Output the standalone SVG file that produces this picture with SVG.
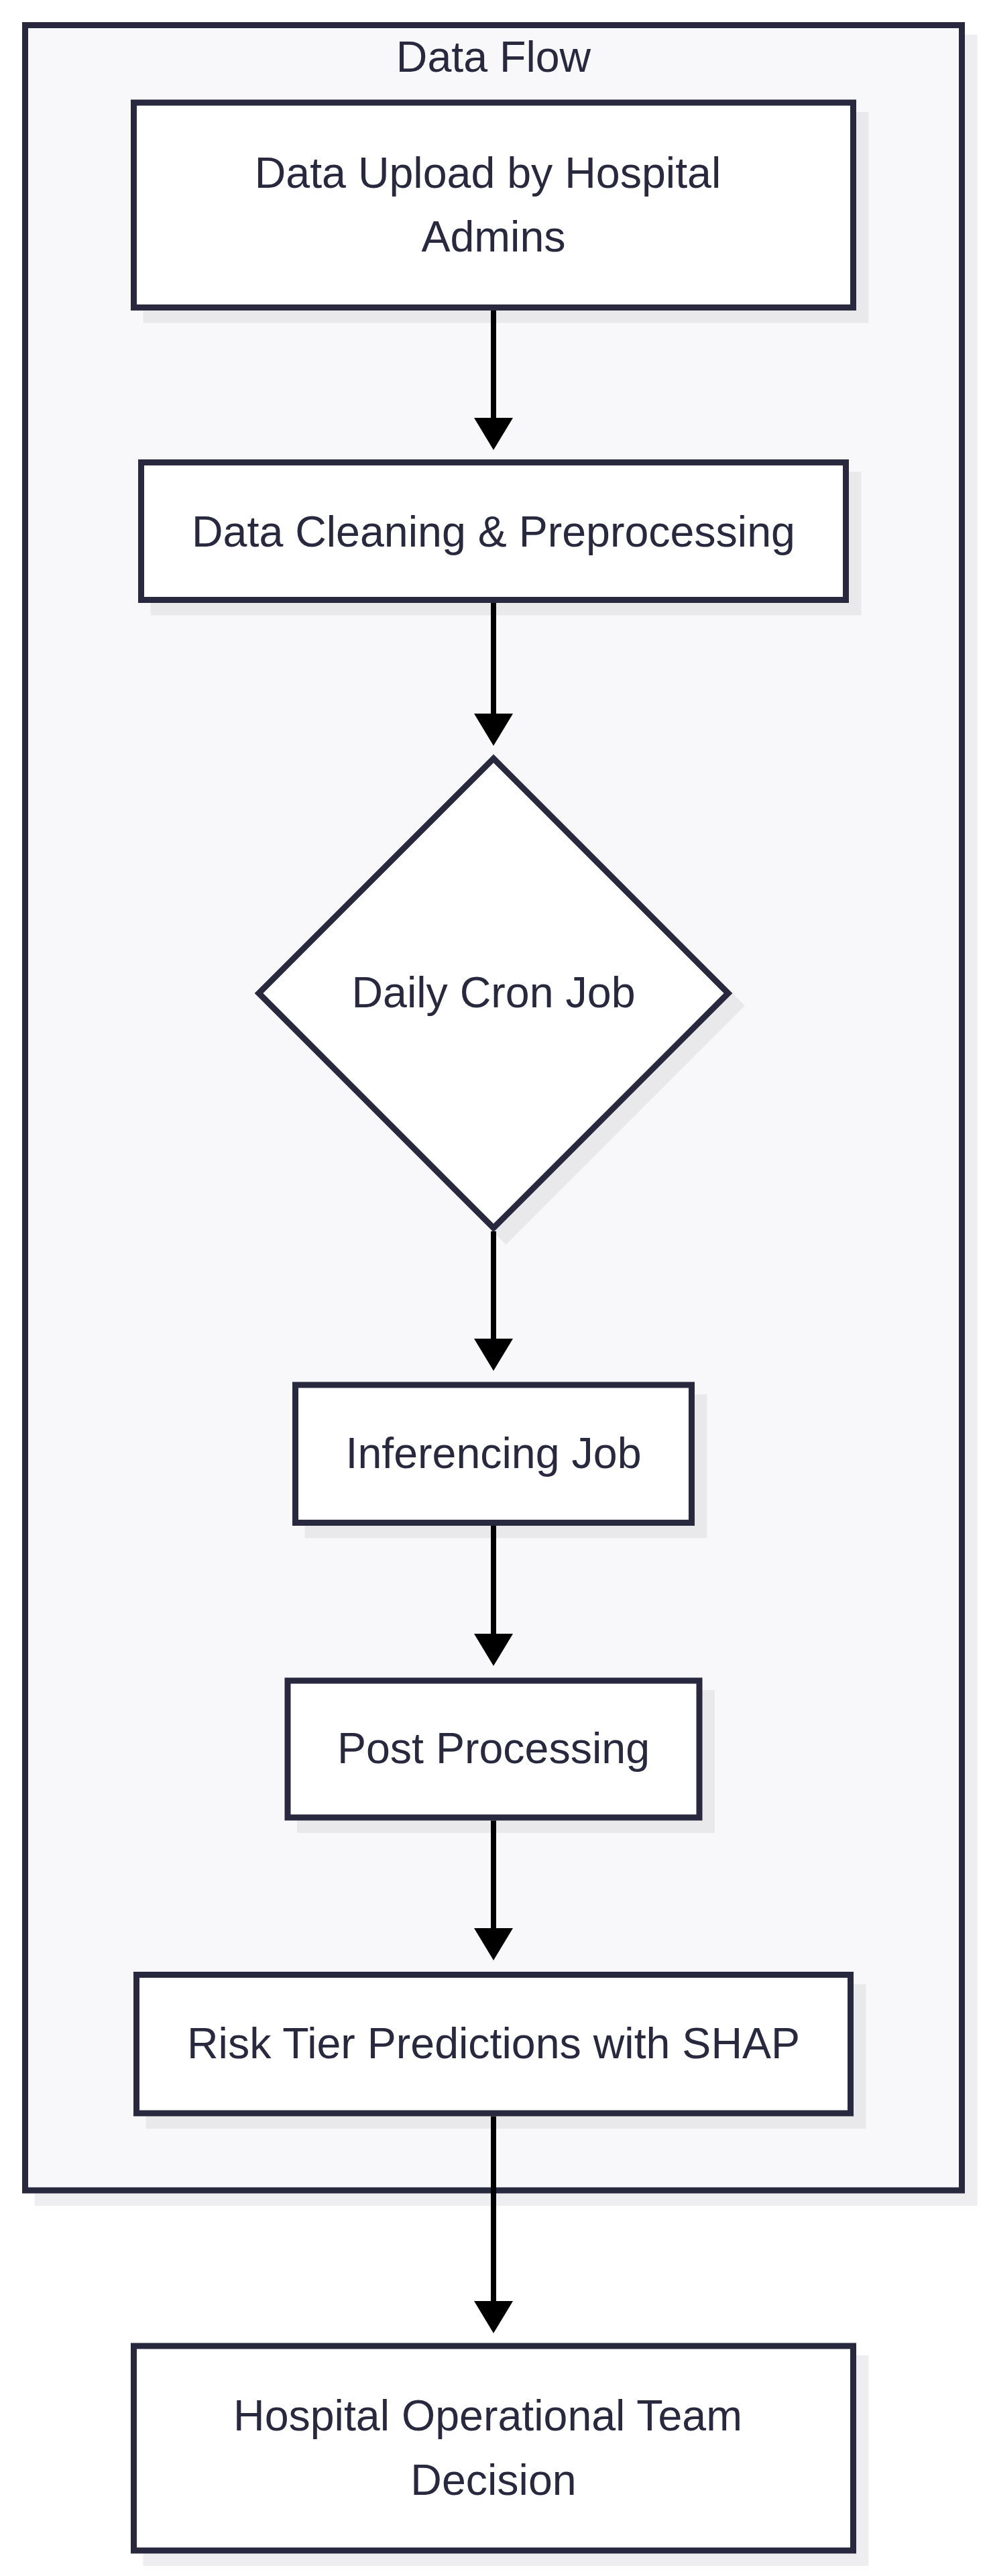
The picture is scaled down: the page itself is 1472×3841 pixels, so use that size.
<svg xmlns="http://www.w3.org/2000/svg" width="1472" height="3841" viewBox="0 0 1472 3841">
<defs>
<style>
.sh-in{fill:#e9e9ec;stroke:#e9e9ec;stroke-width:9}
.sh-out{fill:#eeeef0;stroke:#eeeef0;stroke-width:9}
.cluster{fill:#f8f8fa;stroke:#28283f;stroke-width:9}
.node{fill:#ffffff;stroke:#28283f;stroke-width:9}
.lbl{font-family:"Liberation Sans",Arial,Helvetica,sans-serif;font-size:64.5px;fill:#28283f;text-anchor:middle}
.edge{stroke:#000000;stroke-width:8;fill:none}
</style>
<marker id="arrow" markerUnits="userSpaceOnUse" markerWidth="48" markerHeight="58" viewBox="0 0 48 58" refX="0" refY="29" orient="auto">
<path d="M0,0 L48,29 L0,58 Z" fill="#000000"/>
</marker>
</defs>
<rect x="0" y="0" width="1472" height="3841" fill="#ffffff"/>

<g id="cluster-dataflow">
<rect class="sh-out" x="37.5" y="37.5" width="1397" height="3228.5" transform="translate(18.5,18.5)"/>
<rect class="cluster" x="37.5" y="37.5" width="1397" height="3228.5"/>
<text class="lbl" x="736" y="107">Data Flow</text>
</g>

<g id="node-upload">
<rect class="sh-in" x="199.5" y="153" width="1073" height="305.5" transform="translate(18.5,18.5)"/>
<rect class="node" x="199.5" y="153" width="1073" height="305.5"/>
<text class="lbl" x="727.5" y="280">Data Upload by Hospital</text>
<text class="lbl" x="736" y="375">Admins</text>
</g>

<g id="node-cleaning">
<rect class="sh-in" x="210.5" y="689.5" width="1051" height="205" transform="translate(18.5,18.5)"/>
<rect class="node" x="210.5" y="689.5" width="1051" height="205"/>
<text class="lbl" x="736" y="815">Data Cleaning &amp; Preprocessing</text>
</g>

<g id="node-cron">
<polygon class="sh-in" points="736,1131 1086,1481 736,1831 386,1481" transform="translate(18.5,18.5)"/>
<polygon class="node" points="736,1131 1086,1481 736,1831 386,1481"/>
<text class="lbl" x="736" y="1502">Daily Cron Job</text>
</g>

<g id="node-inferencing">
<rect class="sh-in" x="440.5" y="2065" width="591" height="205.5" transform="translate(18.5,18.5)"/>
<rect class="node" x="440.5" y="2065" width="591" height="205.5"/>
<text class="lbl" x="736" y="2189">Inferencing Job</text>
</g>

<g id="node-post">
<rect class="sh-in" x="429" y="2506" width="614" height="204" transform="translate(18.5,18.5)"/>
<rect class="node" x="429" y="2506" width="614" height="204"/>
<text class="lbl" x="736" y="2629">Post Processing</text>
</g>

<g id="node-risk">
<rect class="sh-in" x="203.5" y="2944.5" width="1065" height="206.5" transform="translate(18.5,18.5)"/>
<rect class="node" x="203.5" y="2944.5" width="1065" height="206.5"/>
<text class="lbl" x="736" y="3069">Risk Tier Predictions with SHAP</text>
</g>

<g id="node-decision">
<rect class="sh-out" x="199.5" y="3498" width="1073" height="305" transform="translate(18.5,18.5)"/>
<rect class="node" x="199.5" y="3498" width="1073" height="305"/>
<text class="lbl" x="727.5" y="3624">Hospital Operational Team</text>
<text class="lbl" x="736" y="3720">Decision</text>
</g>

<g id="connectors">
<path class="edge" d="M736,463 V623" marker-end="url(#arrow)"/>
<path class="edge" d="M736,899 V1064" marker-end="url(#arrow)"/>
<path class="edge" d="M736,1836 V1996" marker-end="url(#arrow)"/>
<path class="edge" d="M736,2275 V2436" marker-end="url(#arrow)"/>
<path class="edge" d="M736,2714.5 V2875" marker-end="url(#arrow)"/>
<path class="edge" d="M736,3155.5 V3431" marker-end="url(#arrow)"/>
</g>
</svg>
